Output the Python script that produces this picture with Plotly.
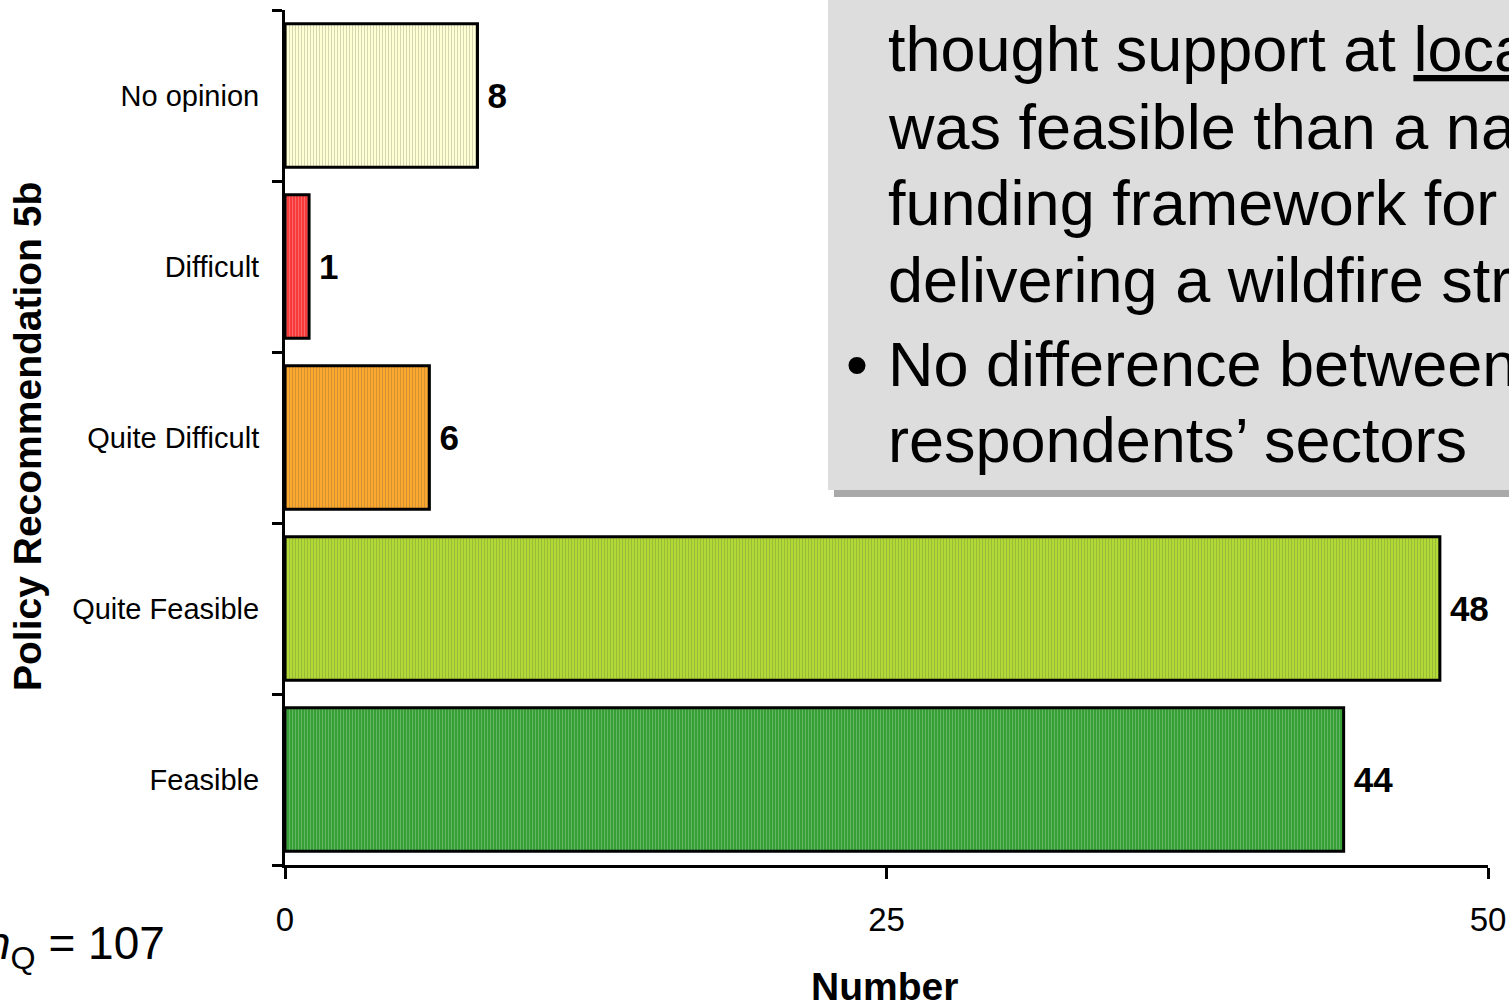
import plotly.graph_objects as go

# ---- data (bottom to top) ----
categories = ["Feasible", "Quite Feasible", "Quite Difficult", "Difficult", "No opinion"]
counts = [44, 48, 6, 1, 8]
bar_colors = ["#36a036", "#b2da36", "#fca82e", "#f83a3a", "#ffffd4"]
x_ticks = [0, 25, 50]
y_title = "Policy Recommendation 5b"
x_title = "Number"
n_label = "<i>n</i><sub>Q</sub> = 107"
box_lines = [
    "thought support at <u>local</u> level",
    "was feasible than a national",
    "funding framework for",
    "delivering a wildfire strategy",
]
bullet_lines = [
    "No difference between",
    "respondents\u2019 sectors",
]

FONT = "Liberation Sans, Arial, sans-serif"
W, H = 1509, 1000
L, R, T, B = 285, 21, 10, 135
PW, PH = W - L - R, H - T - B


def px(xp):
    return (xp - L) / PW


def py(yp):
    return (H - B - yp) / PH


fig = go.Figure()
fig.add_trace(go.Bar(
    y=categories,
    x=counts,
    orientation="h",
    width=0.84,
    marker=dict(
        color=bar_colors,
        line=dict(color="black", width=3),
        pattern=dict(shape="|", size=3, solidity=0.3, fgcolor="white", fgopacity=0.25),
    ),
    text=[f"\u2009<b>{v}</b>" for v in counts],
    texttemplate="%{text}",
    textposition="outside",
    textfont=dict(family=FONT, size=35, color="black"),
    cliponaxis=False,
    constraintext="none",
    hoverinfo="skip",
))

fig.update_layout(
    width=W, height=H,
    autosize=False,
    margin=dict(l=L, r=R, t=T, b=B, autoexpand=False),
    paper_bgcolor="white",
    plot_bgcolor="white",
    showlegend=False,
    font=dict(family=FONT, color="black"),
    xaxis=dict(
        range=[0, 50],
        tickvals=x_ticks,
        automargin=False,
        ticks="outside", ticklen=11, tickwidth=3, tickcolor="black",
        showline=True, linewidth=3, linecolor="black",
        showgrid=False, zeroline=False,
        tickfont=dict(family=FONT, size=33, color="black"),
        ticklabelstandoff=12,
    ),
    yaxis=dict(
        type="category",
        categoryorder="array", categoryarray=categories,
        range=[-0.5, 4.5],
        automargin=False,
        tickson="boundaries",
        ticks="outside", ticklen=10, tickwidth=3, tickcolor="black",
        showline=True, linewidth=3, linecolor="black",
        showgrid=False, zeroline=False,
        tickfont=dict(family=FONT, size=29, color="black"),
        ticklabelstandoff=17,
    ),
)

shapes = [
    dict(type="rect", xref="paper", yref="paper", layer="above",
         x0=px(834), x1=px(1540), y0=py(497), y1=py(480),
         fillcolor="#a9a9a9", line=dict(width=0)),
    dict(type="rect", xref="paper", yref="paper", layer="above",
         x0=px(828), x1=px(1540), y0=py(490), y1=py(-20),
         fillcolor="#dddddd", line=dict(width=0)),
]
fig.update_layout(shapes=shapes)

ann = []
line_mid = [49, 127, 203, 280]
for t, ym in zip(box_lines, line_mid):
    ann.append(dict(text=t, xref="paper", yref="paper", x=px(886), y=py(ym),
                    xanchor="left", yanchor="middle", showarrow=False,
                    font=dict(family=FONT, size=63, color="black")))
for t, ym in zip(bullet_lines, [364, 440]):
    ann.append(dict(text=t, xref="paper", yref="paper", x=px(886), y=py(ym),
                    xanchor="left", yanchor="middle", showarrow=False,
                    font=dict(family=FONT, size=63, color="black")))
ann.append(dict(text="\u2022", xref="paper", yref="paper", x=px(857), y=py(364),
                xanchor="center", yanchor="middle", showarrow=False,
                font=dict(family=FONT, size=63, color="black")))

ann.append(dict(text=f"<b>{y_title}</b>", xref="paper", yref="paper",
                x=px(28), y=py(437), textangle=-90, xanchor="center", yanchor="middle",
                showarrow=False, font=dict(family=FONT, size=39, color="black")))
ann.append(dict(text=f"<b>{x_title}</b>", xref="paper", yref="paper",
                x=px(884), y=py(986), xanchor="center", yanchor="middle",
                showarrow=False, font=dict(family=FONT, size=39, color="black")))
ann.append(dict(text=n_label, xref="paper", yref="paper",
                x=px(167), y=py(947), xanchor="right", yanchor="middle",
                showarrow=False, font=dict(family=FONT, size=46, color="black")))
fig.update_layout(annotations=ann)

fig.write_html("out.html",
               config={"displayModeBar": False, "responsive": False},
               post_script="document.body.style.margin='0';document.body.style.overflow='hidden';")
